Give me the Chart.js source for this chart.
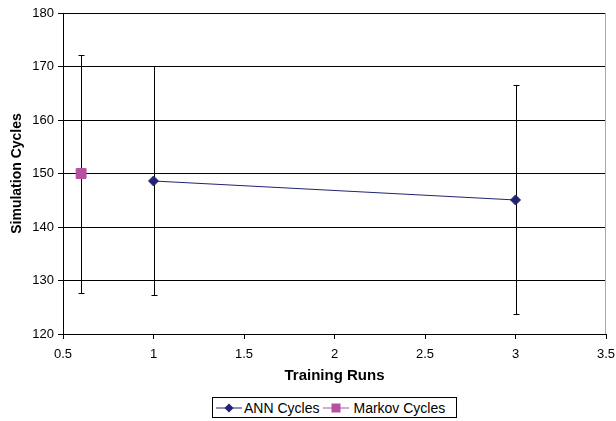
<!DOCTYPE html>
<html>
<head>
<meta charset="utf-8">
<script src="https://cdn.jsdelivr.net/npm/chart.js@4"></script>
<style>
  html, body { margin: 0; padding: 0; background: #fff; }
  #wrap { position: relative; width: 616px; height: 421px; }
  #legend {
    position: absolute; left: 212px; top: 397px; width: 243px; height: 19px;
    border: 1px solid #000; background: #fff;
    font-family: "Liberation Sans", Arial, sans-serif; font-size: 14px; color: #000;
    display: flex; align-items: center; white-space: nowrap;
  }
  #legend .item { display: flex; align-items: center; }
  #legend svg { display: block; }
</style>
</head>
<body>
<div id="wrap">
  <canvas id="c" width="616" height="421"></canvas>
  <div id="legend"></div>
</div>
<script>
// ---- data ----
const annX = [1, 3];
const annCycles = [148.6, 145.05];
const annErrLow = [127.2, 123.8];
const annErrHigh = [170.0, 166.5];

const markovX = [0.6];
const markovCycles = [150];
const markovErrLow = [127.7];
const markovErrHigh = [172.2];

const seriesNames = ['ANN Cycles', 'Markov Cycles'];
const xTitle = 'Training Runs';
const yTitle = 'Simulation Cycles';
const xMin = 0.5, xMax = 3.5, xStep = 0.5;
const yMin = 120, yMax = 180, yStep = 10;

const annColor = '#232372';
const markovColor = '#B650A2';
const FONT = '"Liberation Sans", Arial, sans-serif';

const annPoints = annX.map((x, i) => ({ x: x, y: annCycles[i], lo: annErrLow[i], hi: annErrHigh[i] }));
const markovPoints = markovX.map((x, i) => ({ x: x, y: markovCycles[i], lo: markovErrLow[i], hi: markovErrHigh[i] }));

const errorBars = {
  id: 'errorBars',
  beforeDatasetsDraw(chart) {
    const ctx = chart.ctx;
    const xs = chart.scales.x, ys = chart.scales.y;
    ctx.save();
    ctx.strokeStyle = '#000';
    ctx.lineWidth = 1;
    chart.data.datasets.forEach(ds => {
      ds.data.forEach(p => {
        const px = Math.round(xs.getPixelForValue(p.x)) + 0.5;
        const top = Math.round(ys.getPixelForValue(p.hi)) + 0.5;
        const bot = Math.round(ys.getPixelForValue(p.lo)) + 0.5;
        ctx.beginPath();
        ctx.moveTo(px, top); ctx.lineTo(px, bot);
        ctx.moveTo(px - 3, top); ctx.lineTo(px + 3, top);
        ctx.moveTo(px - 3, bot); ctx.lineTo(px + 3, bot);
        ctx.stroke();
      });
    });
    ctx.restore();
  }
};

const rightBorder = {
  id: 'rightBorder',
  afterDraw(chart) {
    const a = chart.chartArea, ctx = chart.ctx;
    ctx.save();
    ctx.strokeStyle = '#A8A8A8';
    ctx.lineWidth = 1;
    const x = Math.round(a.right) - 0.5;
    ctx.beginPath();
    ctx.moveTo(x, a.top); ctx.lineTo(x, a.bottom);
    ctx.stroke();
    ctx.restore();
  }
};

new Chart(document.getElementById('c'), {
  type: 'line',
  data: {
    datasets: [
      {
        label: seriesNames[0],
        data: annPoints,
        borderColor: annColor,
        backgroundColor: annColor,
        borderWidth: 1,
        pointStyle: 'rectRot',
        pointRadius: 5,
        pointBorderWidth: 1,
        pointBackgroundColor: annColor,
        pointBorderColor: annColor,
        tension: 0,
        fill: false
      },
      {
        label: seriesNames[1],
        data: markovPoints,
        borderColor: markovColor,
        backgroundColor: markovColor,
        showLine: false,
        pointStyle: 'rect',
        pointRadius: 7,
        pointBorderWidth: 1,
        pointBackgroundColor: markovColor,
        pointBorderColor: markovColor
      }
    ]
  },
  options: {
    responsive: false,
    animation: false,
    events: [],
    layout: { padding: { left: 0, top: 13, right: 10, bottom: 32 } },
    plugins: { legend: { display: false }, tooltip: { enabled: false } },
    scales: {
      x: {
        type: 'linear',
        min: xMin, max: xMax,
        afterFit(s) { s.height = 55; s.paddingRight = 0; s.paddingLeft = 0; },
        ticks: { stepSize: xStep, color: '#000', padding: 8, font: { family: FONT, size: 13 },
                 callback: v => String(v) },
        grid: { drawOnChartArea: false, drawTicks: true, tickLength: 5, tickColor: '#000', color: '#000' },
        border: { color: '#000', width: 1 },
        title: { display: true, text: xTitle, color: '#000', padding: { top: 4, bottom: 4 }, font: { family: FONT, size: 15, weight: 'bold' } }
      },
      y: {
        type: 'linear',
        min: yMin, max: yMax,
        afterFit(s) { s.width = 63; },
        ticks: { stepSize: yStep, color: '#000', padding: 4, font: { family: FONT, size: 13 },
                 callback: v => String(v) },
        grid: { color: '#000', lineWidth: 1, tickLength: 5, tickColor: '#000' },
        border: { color: '#000', width: 1 },
        title: { display: true, text: yTitle, color: '#000', padding: { top: 9, bottom: 9 }, font: { family: FONT, size: 14, weight: 'bold' } }
      }
    }
  },
  plugins: [errorBars, rightBorder]
});

// HTML legend
const legend = document.getElementById('legend');
function icon(kind, color) {
  const shape = kind === 'diamond'
    ? '<polygon points="13,0.5 17.5,5 13,9.5 8.5,5" fill="' + color + '"/>'
    : '<rect x="8.5" y="0.5" width="9" height="9" fill="' + color + '"/>';
  return '<svg width="26" height="10" viewBox="0 0 26 10"><line x1="0" y1="5" x2="26" y2="5" stroke="' + color + '" stroke-width="1"/>' + shape + '</svg>';
}
legend.innerHTML =
  '<span class="item" style="margin-left:3px">' + icon('diamond', annColor) + '<span style="margin-left:2px">' + seriesNames[0] + '</span></span>' +
  '<span class="item" style="margin-left:4px">' + icon('square', markovColor) + '<span style="margin-left:4px">' + seriesNames[1] + '</span></span>';
</script>
</body>
</html>
